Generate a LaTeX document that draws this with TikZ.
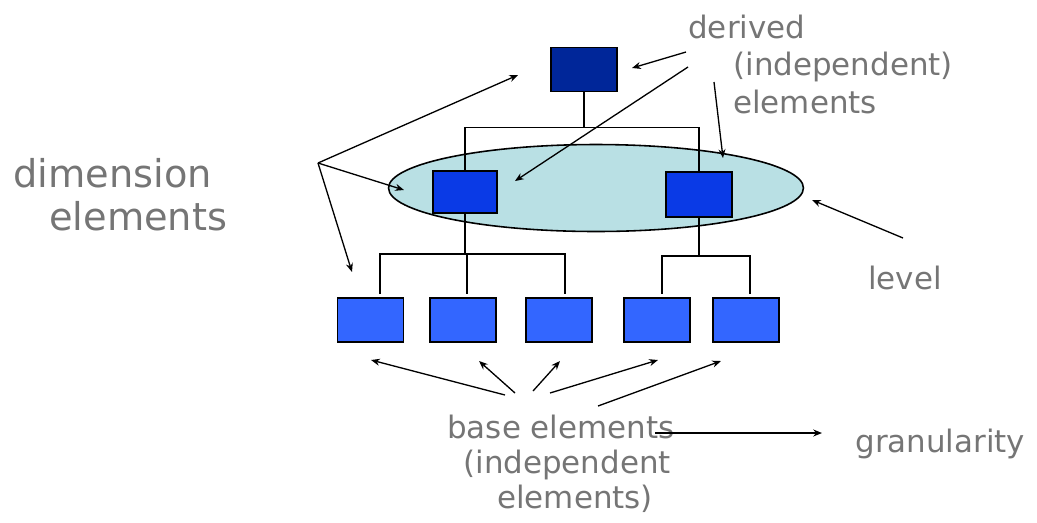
\documentclass[tikz,border=0pt]{standalone}
\usepackage{fontspec}
\setmainfont{DejaVu Sans}
\usetikzlibrary{arrows.meta,shapes.geometric}
\definecolor{topblue}{HTML}{002699}
\definecolor{midblue}{HTML}{0A3AE6}
\definecolor{baseblue}{HTML}{3366FF}
\definecolor{lvlfill}{HTML}{B9E0E4}
\definecolor{txtgray}{HTML}{757575}
\begin{document}
\begin{tikzpicture}[x=0.02cm,y=-0.02cm,
    elem/.style={draw=black,line width=1.1pt,minimum width=1.32cm,minimum height=0.88cm,inner sep=0pt},
    tree/.style={line width=1.1pt},
    pointer/.style={line width=0.75pt,-{Stealth[length=5pt,width=4pt]}},
    lbl/.style={anchor=base west,inner sep=0pt,text=txtgray,font=\fontsize{17.6}{21}\selectfont}]
  \useasboundingbox (0,0) rectangle (1037,522);
  % level ellipse behind the middle row
  \node[ellipse,draw=black,line width=0.9pt,fill=lvlfill,minimum width=8.3cm,minimum height=1.74cm,inner sep=0pt] (lvl) at (596,188) {};
  % elements: top, middle row, base row
  \node[elem,fill=topblue] (top) at (584,69.5) {};
  \node[elem,fill=midblue,minimum width=1.28cm,minimum height=0.84cm] (midL) at (465,192) {};
  \node[elem,fill=midblue,minimum height=0.9cm] (midR) at (699,194.5) {};
  \foreach \n/\x in {b1/370.5,b2/463,b3/559,b4/657,b5/746}{\node[elem,fill=baseblue] (\n) at (\x,320) {};}
  % hierarchy lines
  \draw[tree] (top.south) -- ++(0,35) -| (midL.north);
  \draw[tree] (top.south) -- ++(0,35) -| (midR.north);
  \foreach \b/\s in {b1/5.4pt,b2/2.3pt,b3/3.4pt}{\draw[tree] (midL.south) -- ++(0,40) -| ([xshift=\s,yshift=2pt]\b.north);}
  \foreach \b/\s in {b4/3.1pt,b5/2.3pt}{\draw[tree] (midR.south) -- ++(0,38) -| ([xshift=\s,yshift=2pt]\b.north);}
  % labels
  \node[lbl,font=\fontsize{21.8}{25}\selectfont] (dimA) at (13,187) {dimension};
  \node[lbl,font=\fontsize{21.8}{25}\selectfont] (dimB) at (49,230) {elements};
  \node[lbl] (derA) at (688,38) {derived};
  \node[lbl] (derB) at (733,75) {(independent)};
  \node[lbl] (derC) at (733,113) {elements};
  \node[lbl] (level) at (868,289) {level};
  \node[lbl] (baseA) at (447,438) {base elements};
  \node[lbl] (baseB) at (463,473) {(independent};
  \node[lbl] (baseC) at (497,508) {elements)};
  \node[lbl] (gran) at (855,452) {granularity};
  % pointer arrows
  \coordinate (dimhub) at (318,163);
  \coordinate (dimT) at (518,75);
  \coordinate (dimM) at (404,190);
  \coordinate (dimB1) at (352,272);
  \draw[pointer] (dimhub) -- (dimT);
  \draw[pointer] (dimhub) -- (dimM);
  \draw[pointer] (dimhub) -- (dimB1);
  \coordinate (derS1) at (686,52); \coordinate (derE1) at (632,68);
  \coordinate (derS2) at (688,67); \coordinate (derE2) at (515,181);
  \coordinate (derS3) at (714,82); \coordinate (derE3) at (723,158);
  \draw[pointer] (derS1) -- (derE1);
  \draw[pointer] (derS2) -- (derE2);
  \draw[pointer] (derS3) -- (derE3);
  \coordinate (lvlS) at (903,238); \coordinate (lvlE) at (812,200);
  \draw[pointer] (lvlS) -- (lvlE);
  \foreach \s/\e in {{(505,395)}/{(371,360)},{(515,393)}/{(479,361)},{(533,391)}/{(560,361)},{(550,393)}/{(658,360)},{(598,406)}/{(721,361)}}{\draw[pointer] \s -- \e;}
  \coordinate (granS) at (655,433); \coordinate (granE) at (822,433);
  \draw[pointer] (granS) -- (granE);
\end{tikzpicture}
\end{document}
